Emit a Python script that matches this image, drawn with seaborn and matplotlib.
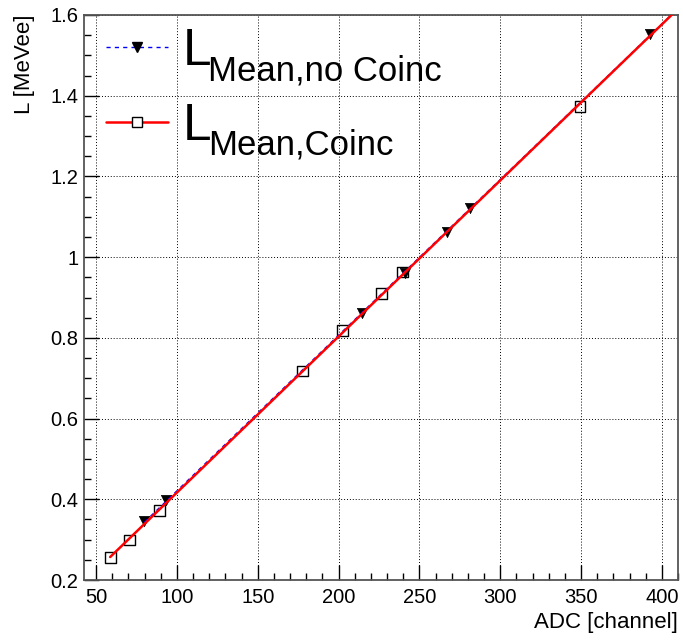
import numpy as np
import matplotlib
matplotlib.use("Agg")
import matplotlib.pyplot as plt
from matplotlib.lines import Line2D
from matplotlib.ticker import MultipleLocator, FixedLocator, FuncFormatter
import seaborn as sns

# Light-output calibration points: ADC channel vs. light output (MeVee)
adc_nocoinc = [79.9, 93.3, 214.4, 241.0, 267.3, 281.3, 392.6]
l_nocoinc = [0.345, 0.397, 0.861, 0.961, 1.062, 1.121, 1.553]

adc_coinc = [58.7, 70.6, 89.1, 177.8, 202.5, 226.7, 239.7, 349.3]
l_coinc = [0.256, 0.299, 0.373, 0.718, 0.818, 0.909, 0.963, 1.373]

series_symbol = ["L", "L"]
series_subscripts = ["Mean,no Coinc", "Mean,Coinc"]
x_ticks = [50, 100, 150, 200, 250, 300, 350, 400]
y_ticks = [0.2, 0.4, 0.6, 0.8, 1.0, 1.2, 1.4, 1.6]
x_label = "ADC [channel]"
y_label = "L [MeVee]"

sns.set_style("ticks")
plt.rcParams["font.family"] = ["Liberation Sans", "DejaVu Sans"]
plt.rcParams["text.color"] = "black"
plt.rcParams["axes.labelcolor"] = "black"
plt.rcParams["xtick.color"] = "black"
plt.rcParams["ytick.color"] = "black"

fig = plt.figure(figsize=(6.83, 6.4), dpi=100)
ax = fig.add_axes([84 / 683, 1 - 580 / 640, 594 / 683, 565 / 640])

XMIN, XMAX = 42.5, 410.0
YMIN, YMAX = 0.2, 1.6

# data markers
sns.scatterplot(x=adc_nocoinc, y=l_nocoinc, marker="v", s=55, color="black",
                edgecolor="black", linewidth=0.5, ax=ax, zorder=2)
sns.scatterplot(x=adc_coinc, y=l_coinc, marker="s", s=60, facecolor="none",
                edgecolor="black", linewidth=1.0, ax=ax, zorder=2)

# straight-line calibration fits, drawn from the first point to the right edge
fit_nc = np.polyfit(adc_nocoinc, l_nocoinc, 1)
xs_nc = np.array([min(adc_nocoinc), XMAX])
ax.plot(xs_nc, np.polyval(fit_nc, xs_nc), color="blue", lw=1.0,
        ls=(0, (3, 3)), zorder=3)

fit_c = np.polyfit(adc_coinc, l_coinc, 1)
xs_c = np.array([min(adc_coinc), XMAX])
ax.plot(xs_c, np.polyval(fit_c, xs_c), color="red", lw=1.8, zorder=4)

ax.set_xlim(XMIN, XMAX)
ax.set_ylim(YMIN, YMAX)

ax.xaxis.set_major_locator(FixedLocator(x_ticks))
ax.yaxis.set_major_locator(FixedLocator(y_ticks))
ax.xaxis.set_minor_locator(MultipleLocator(10))
ax.yaxis.set_minor_locator(MultipleLocator(0.05))
ax.yaxis.set_major_formatter(FuncFormatter(lambda v, p: f"{v:g}"))

ax.tick_params(which="both", direction="in", top=False, right=False,
               color="black", labelcolor="black", labelsize=14.5)
ax.tick_params(which="major", length=10.5, width=1.0)
ax.tick_params(which="minor", length=5.2, width=1.0)
ax.tick_params(axis="y", pad=4)
ax.tick_params(axis="x", pad=6)

ax.grid(True, which="major", color="black", ls=(0, (1, 2)), lw=0.7)

for sp in ax.spines.values():
    sp.set_color("#555555")
    sp.set_linewidth(1.3)

ax.set_xlabel(x_label, fontsize=16, loc="right", color="black")
ax.set_ylabel(y_label, fontsize=16, loc="top", color="black")
ax.xaxis.set_label_coords(1.0, -0.057)
ax.yaxis.set_label_coords(-0.082, 1.0)

handles = [
    Line2D([], [], color="blue", lw=1.0, ls=(0, (3, 3)), marker="v",
           markersize=7, markerfacecolor="black", markeredgecolor="black"),
    Line2D([], [], color="red", lw=1.8, marker="s", markersize=7,
           markerfacecolor="white", markeredgecolor="black"),
]
leg = ax.legend(handles, series_symbol, loc="upper left",
                bbox_to_anchor=(22 / 594, 1 - 12 / 565), frameon=False,
                fontsize=37, handlelength=1.2, handletextpad=0.3,
                borderpad=0.0, borderaxespad=0.0, labelspacing=0.5,
                numpoints=1)
leg.set_zorder(5)

# large "L" with a deep subscript next to it in each legend entry;
# drawn after the legend so the entry positions are already laid out
for t, sub in zip(leg.get_texts(), series_subscripts):
    t.set_color("black")
    ax.annotate(sub, xy=(1.0, 0.0), xycoords=t, xytext=(-2.5, -3.0),
                textcoords="offset points", ha="left", va="baseline",
                fontsize=25, color="black", zorder=6)

fig.savefig("out.png", dpi=100)
